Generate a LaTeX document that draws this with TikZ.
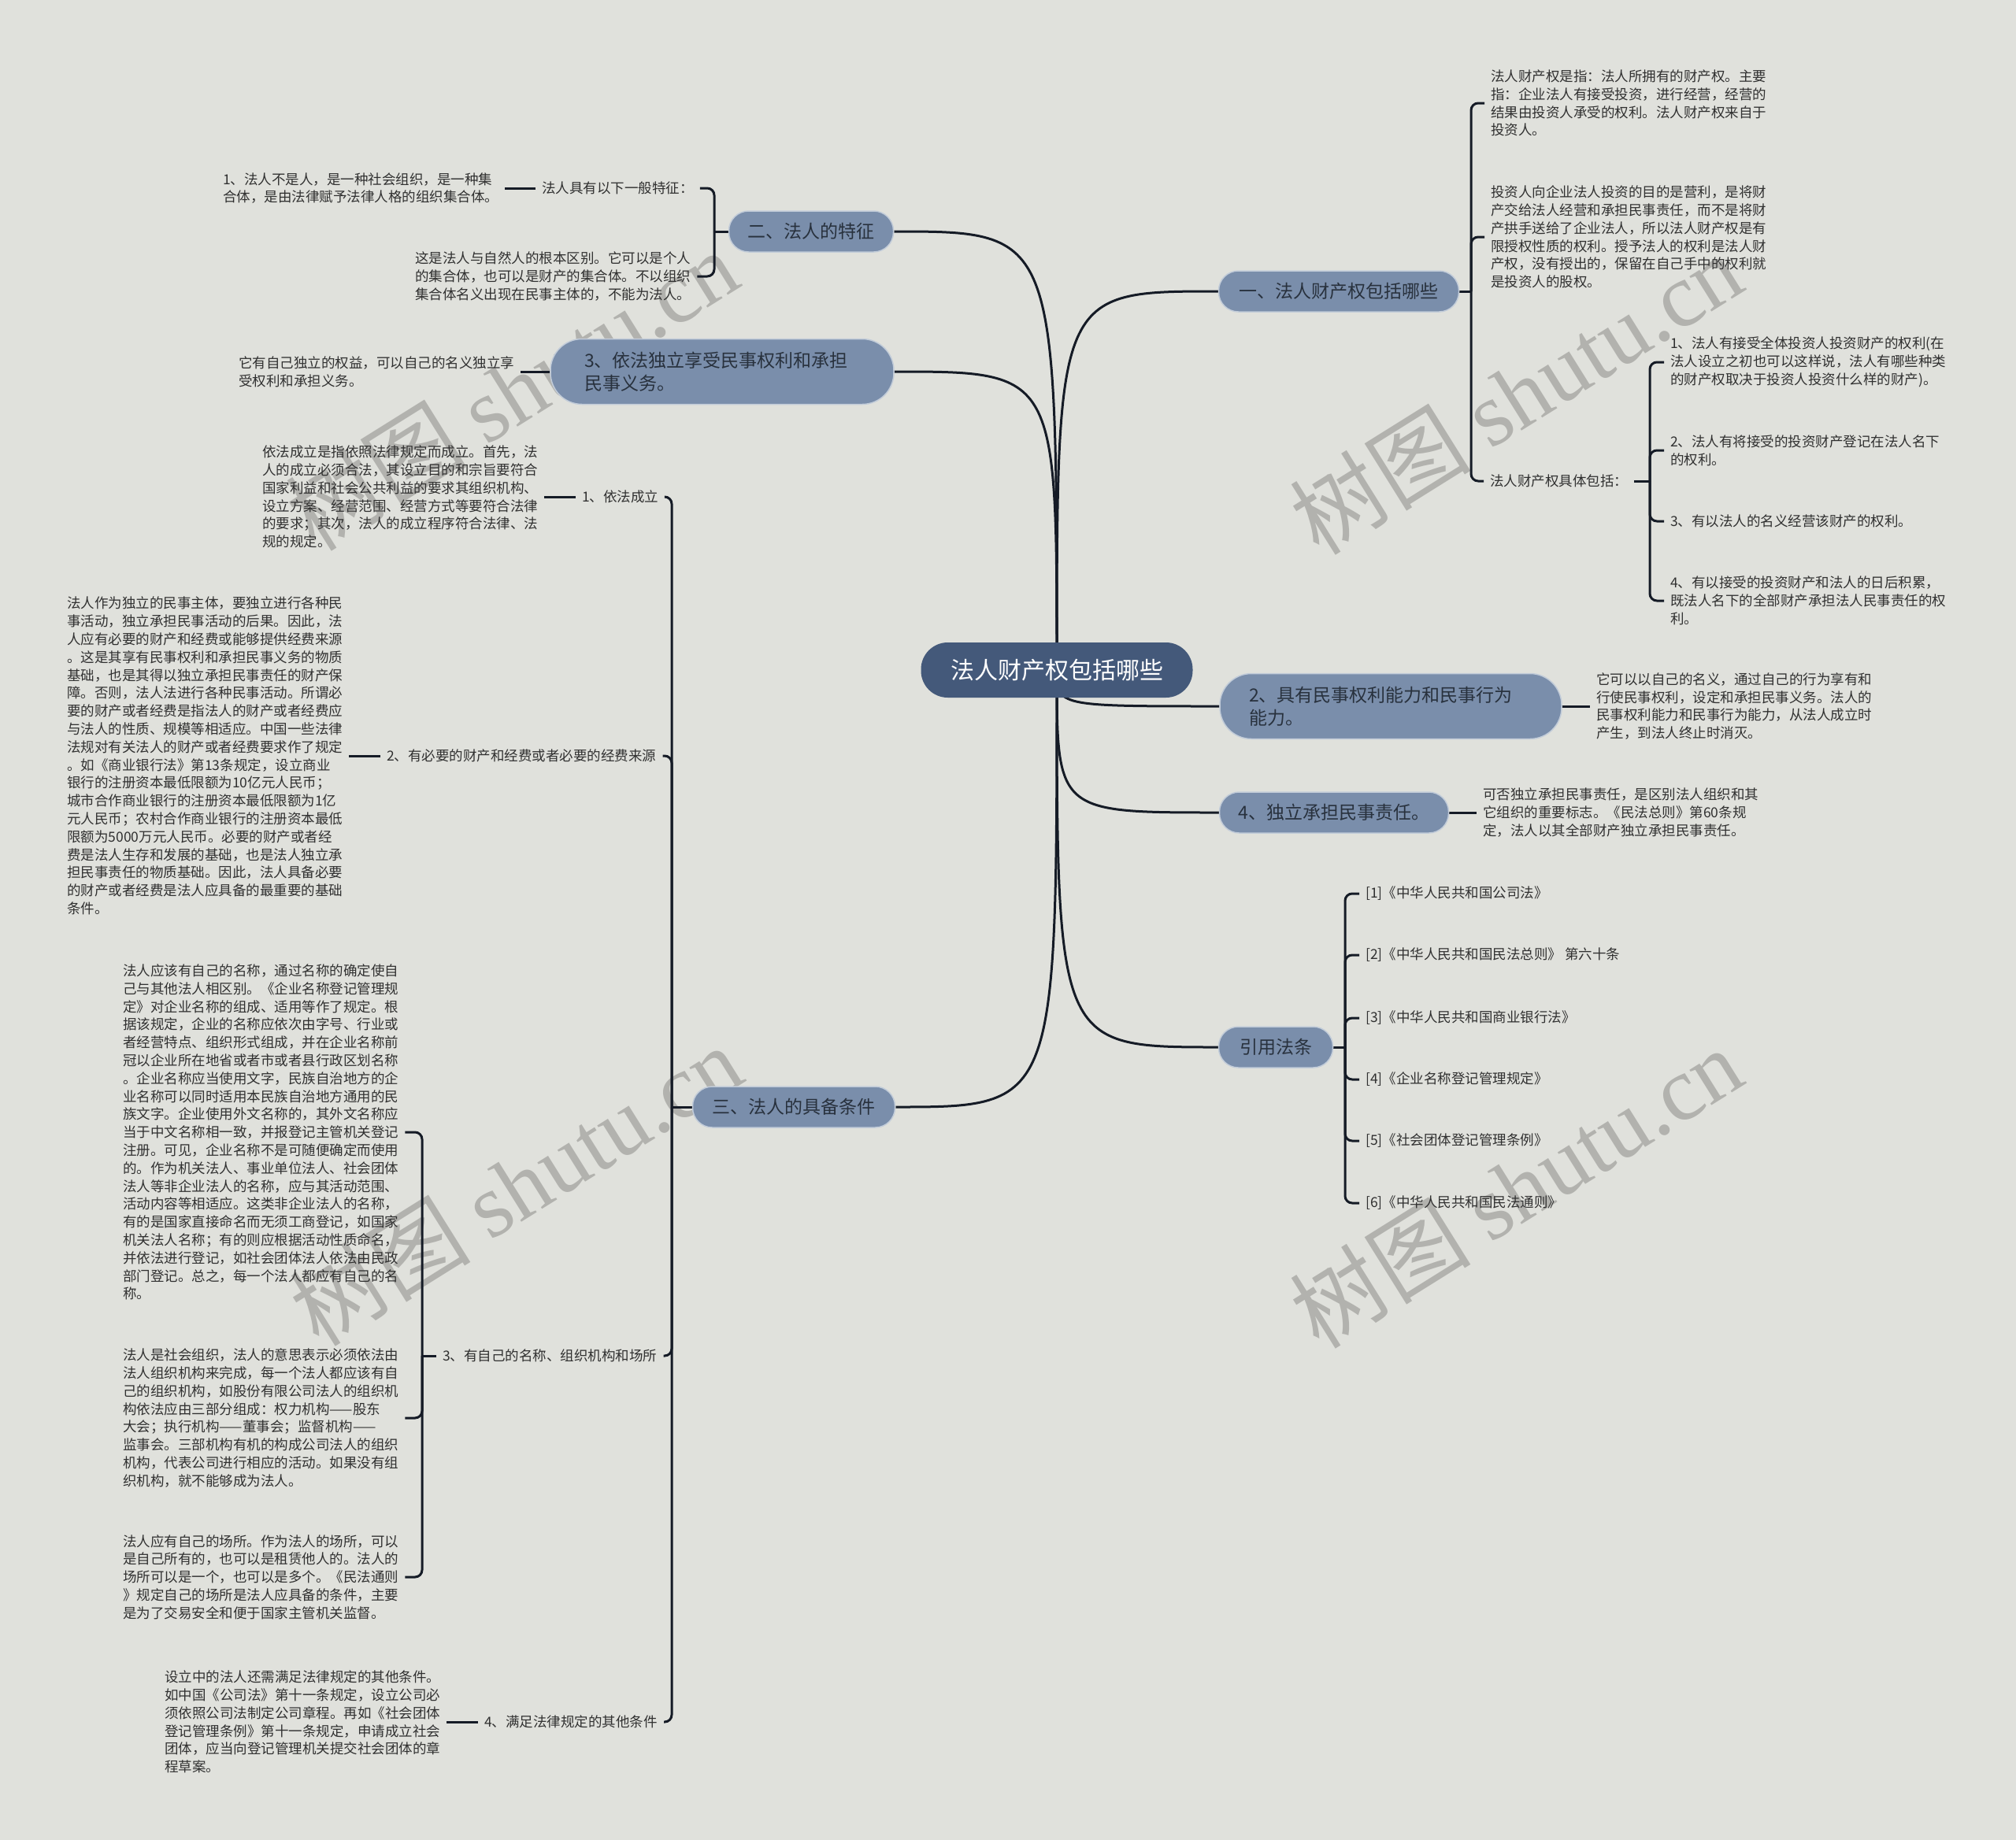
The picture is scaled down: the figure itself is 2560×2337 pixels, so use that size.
\documentclass[tikz,border=0pt]{standalone}
\usepackage{fontspec}
\setmainfont{Noto Sans CJK SC}
\newfontfamily\wmlatin{Liberation Serif}
\usetikzlibrary{calc}
\definecolor{bgc}{HTML}{E0E1DC}
\definecolor{rootc}{HTML}{44597A}
\definecolor{brc}{HTML}{7A8EAB}
\definecolor{brd}{HTML}{C2CCD9}
\definecolor{brt}{HTML}{28313D}
\definecolor{leafc}{HTML}{303030}
\definecolor{lnc}{HTML}{151B26}
\definecolor{wmc}{HTML}{B2B2AE}
\pgfdeclarelayer{wmlayer}
\pgfdeclarelayer{lnlayer}
\pgfsetlayers{wmlayer,lnlayer,main}
\tikzset{
  rootn/.style={fill=rootc, text=white, font=\fontsize{30}{36}\selectfont, minimum width=345pt, minimum height=70pt, rounded corners=34pt, inner sep=0pt},
  br/.style={fill=brc, draw=brd, line width=1.5pt, text=brt, font=\fontsize{23}{29}\selectfont, rounded corners=25pt, minimum height=52pt, inner ysep=0pt},
  brtwo/.style={br, align=left, rounded corners=40pt, minimum height=83pt},
  leaf/.style={anchor=west, align=left, inner xsep=8pt, inner ysep=2pt, text=leafc, font=\fontsize{17.5}{22.8}\selectfont},
  conn/.style={draw=lnc, line width=3pt},
  brk/.style={conn, rounded corners=9pt},
  wm/.style={text=wmc, rotate=32, inner sep=0pt, font=\fontsize{115}{115}\selectfont}
}
\begin{document}
\begin{tikzpicture}[x=1pt,y=-1pt]
\begin{pgfonlayer}{wmlayer}
\fill[bgc] (0,0) rectangle (2560,2337);
\end{pgfonlayer}
\useasboundingbox (0,0) rectangle (2560,2337);

% watermarks
\begin{pgfonlayer}{wmlayer}
\node[wm] (wm1) at (650,495) {树图 {\wmlatin shutu.cn}};
\node[wm] (wm2) at (1925,500) {树图 {\wmlatin shutu.cn}};
\node[wm] (wm3) at (655,1505) {树图 {\wmlatin shutu.cn}};
\node[wm] (wm4) at (1925,1508) {树图 {\wmlatin shutu.cn}};
\end{pgfonlayer}

% root and main branches
\node[rootn] (root) at (1342,851) {法人财产权包括哪些};
\node[br, minimum width=305pt] (b1) at (1700,370) {一、法人财产权包括哪些};
\node[brtwo, text width=360pt, inner xsep=37pt] (b2) at (1766,897) {2、具有民事权利能力和民事行为\\能力。};
\node[br, minimum width=291pt] (b3) at (1694,1032) {4、独立承担民事责任。};
\node[br, minimum width=145pt] (b4) at (1620,1330) {引用法条};
\node[br, minimum width=209pt] (b5) at (1030,294) {二、法人的特征};
\node[brtwo, text width=350pt, inner xsep=43pt] (b6) at (917,472) {3、依法独立享受民事权利和承担\\民事义务。};
\node[br, minimum width=257pt] (b7) at (1008,1406) {三、法人的具备条件};

% right: branch 1
\node[leaf] (tA) at (1885,131) {法人财产权是指：法人所拥有的财产权。主要\\指：企业法人有接受投资，进行经营，经营的\\结果由投资人承受的权利。法人财产权来自于\\投资人。};
\node[leaf] (tB) at (1885,301) {投资人向企业法人投资的目的是营利，是将财\\产交给法人经营和承担民事责任，而不是将财\\产拱手送给了企业法人，所以法人财产权是有\\限授权性质的权利。授予法人的权利是法人财\\产权，没有授出的，保留在自己手中的权利就\\是投资人的股权。};
\node[leaf] (tC) at (1884,611) {法人财产权具体包括：};
\node[leaf] (c1) at (2113,460) {1、法人有接受全体投资人投资财产的权利(在\\法人设立之初也可以这样说，法人有哪些种类\\的财产权取决于投资人投资什么样的财产)。};
\node[leaf] (c2) at (2113,572) {2、法人有将接受的投资财产登记在法人名下\\的权利。};
\node[leaf] (c3) at (2113,662) {3、有以法人的名义经营该财产的权利。};
\node[leaf] (c4) at (2113,763) {4、有以接受的投资财产和法人的日后积累，\\既法人名下的全部财产承担法人民事责任的权\\利。};

% right: branch 2, 4
\node[leaf] (t2) at (2019,897) {它可以以自己的名义，通过自己的行为享有和\\行使民事权利，设定和承担民事义务。法人的\\民事权利能力和民事行为能力，从法人成立时\\产生，到法人终止时消灭。};
\node[leaf] (t3) at (1875,1032) {可否独立承担民事责任，是区别法人组织和其\\它组织的重要标志。《民法总则》第60条规\\定，法人以其全部财产独立承担民事责任。};

% right: references
\node[leaf] (r1) at (1726,1135) {[1]《中华人民共和国公司法》};
\node[leaf] (r2) at (1726,1213) {[2]《中华人民共和国民法总则》 第六十条};
\node[leaf] (r3) at (1726,1293) {[3]《中华人民共和国商业银行法》};
\node[leaf] (r4) at (1726,1371) {[4]《企业名称登记管理规定》};
\node[leaf] (r5) at (1726,1449) {[5]《社会团体登记管理条例》};
\node[leaf] (r6) at (1726,1528) {[6]《中华人民共和国民法通则》};

% left: 二
\node[leaf] (l1) at (680,239) {法人具有以下一般特征：};
\node[leaf] (l1a) at (275,239) {1、法人不是人，是一种社会组织，是一种集\\合体，是由法律赋予法律人格的组织集合体。};
\node[leaf] (l2) at (519,351) {这是法人与自然人的根本区别。它可以是个人\\的集合体，也可以是财产的集合体。不以组织\\集合体名义出现在民事主体的，不能为法人。};
% left: 3
\node[leaf] (l3) at (295,472) {它有自己独立的权益，可以自己的名义独立享\\受权利和承担义务。};

% left: 三
\node[leaf] (s1) at (731,631) {1、依法成立};
\node[leaf] (s1a) at (325,631) {依法成立是指依照法律规定而成立。首先，法\\人的成立必须合法，其设立目的和宗旨要符合\\国家利益和社会公共利益的要求其组织机构、\\设立方案、经营范围、经营方式等要符合法律\\的要求；其次，法人的成立程序符合法律、法\\规的规定。};
\node[leaf] (s2) at (483,960) {2、有必要的财产和经费或者必要的经费来源};
\node[leaf] (s2a) at (77,960) {法人作为独立的民事主体，要独立进行各种民\\事活动，独立承担民事活动的后果。因此，法\\人应有必要的财产和经费或能够提供经费来源\\。这是其享有民事权利和承担民事义务的物质\\基础，也是其得以独立承担民事责任的财产保\\障。否则，法人法进行各种民事活动。所谓必\\要的财产或者经费是指法人的财产或者经费应\\与法人的性质、规模等相适应。中国一些法律\\法规对有关法人的财产或者经费要求作了规定\\。如《商业银行法》第13条规定，设立商业\\银行的注册资本最低限额为10亿元人民币；\\城市合作商业银行的注册资本最低限额为1亿\\元人民币；农村合作商业银行的注册资本最低\\限额为5000万元人民币。必要的财产或者经\\费是法人生存和发展的基础，也是法人独立承\\担民事责任的物质基础。因此，法人具备必要\\的财产或者经费是法人应具备的最重要的基础\\条件。};
\node[leaf] (s3) at (554,1722) {3、有自己的名称、组织机构和场所};
\node[leaf] (s3a) at (148,1438) {法人应该有自己的名称，通过名称的确定使自\\己与其他法人相区别。《企业名称登记管理规\\定》对企业名称的组成、适用等作了规定。根\\据该规定，企业的名称应依次由字号、行业或\\者经营特点、组织形式组成，并在企业名称前\\冠以企业所在地省或者市或者县行政区划名称\\。企业名称应当使用文字，民族自治地方的企\\业名称可以同时适用本民族自治地方通用的民\\族文字。企业使用外文名称的，其外文名称应\\当于中文名称相一致，并报登记主管机关登记\\注册。可见，企业名称不是可随便确定而使用\\的。作为机关法人、事业单位法人、社会团体\\法人等非企业法人的名称，应与其活动范围、\\活动内容等相适应。这类非企业法人的名称，\\有的是国家直接命名而无须工商登记，如国家\\机关法人名称；有的则应根据活动性质命名，\\并依法进行登记，如社会团体法人依法由民政\\部门登记。总之，每一个法人都应有自己的名\\称。};
\node[leaf] (s3b) at (148,1801) {法人是社会组织，法人的意思表示必须依法由\\法人组织机构来完成，每一个法人都应该有自\\己的组织机构，如股份有限公司法人的组织机\\构依法应由三部分组成：权力机构——股东\\大会；执行机构——董事会；监督机构——\\监事会。三部机构有机的构成公司法人的组织\\机构，代表公司进行相应的活动。如果没有组\\织机构，就不能够成为法人。};
\node[leaf] (s3c) at (148,2003) {法人应有自己的场所。作为法人的场所，可以\\是自己所有的，也可以是租赁他人的。法人的\\场所可以是一个，也可以是多个。《民法通则\\》规定自己的场所是法人应具备的条件，主要\\是为了交易安全和便于国家主管机关监督。};
\node[leaf] (s4) at (607,2187) {4、满足法律规定的其他条件};
\node[leaf] (s4a) at (201,2187) {设立中的法人还需满足法律规定的其他条件。\\如中国《公司法》第十一条规定，设立公司必\\须依照公司法制定公司章程。再如《社会团体\\登记管理条例》第十一条规定，申请成立社会\\团体，应当向登记管理机关提交社会团体的章\\程草案。};

% bracket junctions
\coordinate (k1) at (1868,370);
\coordinate (kC) at (2095,611);
\coordinate (k4) at (1708,1330);
\coordinate (k5) at (907,294);
\coordinate (k7) at (853,1406);
\coordinate (k3) at (536,1722);

\begin{pgfonlayer}{lnlayer}
% root curves
\foreach \b in {b1,b2,b3,b4}{
  \draw[conn] (root.center) .. controls (root.center |- \b.west) and (root.center |- \b.west) .. (\b.west);
}
\foreach \b in {b5,b6,b7}{
  \draw[conn] (root.center) .. controls (root.center |- \b.east) and (root.center |- \b.east) .. (\b.east);
}
% branch 1
\draw[conn] (b1.east) -- (k1);
\foreach \c in {tA,tB,tC}{ \draw[brk] (k1) -- (k1 |- \c.west) -- (\c.west); }
\draw[conn] (tC.east) -- (kC);
\foreach \c in {c1,c2,c3,c4}{ \draw[brk] (kC) -- (kC |- \c.west) -- (\c.west); }
% branch 2, 4
\draw[conn] (b2.east) -- (t2.west);
\draw[conn] (b3.east) -- (t3.west);
% references
\draw[conn] (b4.east) -- (k4);
\foreach \c in {r1,r2,r3,r4,r5,r6}{ \draw[brk] (k4) -- (k4 |- \c.west) -- (\c.west); }
% 二
\draw[conn] (b5.west) -- (k5);
\foreach \c in {l1,l2}{ \draw[brk] (k5) -- (k5 |- \c.east) -- (\c.east); }
\draw[conn] (l1.west) -- (l1a.east);
% 3
\draw[conn] (b6.west) -- (l3.east);
% 三
\draw[conn] (b7.west) -- (k7);
\foreach \c in {s1,s2,s3,s4}{ \draw[brk] (k7) -- (k7 |- \c.east) -- (\c.east); }
\draw[conn] (s1.west) -- (s1a.east);
\draw[conn] (s2.west) -- (s2a.east);
\draw[conn] (s3.west) -- (k3);
\foreach \c in {s3a,s3b,s3c}{ \draw[brk] (k3) -- (k3 |- \c.east) -- (\c.east); }
\draw[conn] (s4.west) -- (s4a.east);
\end{pgfonlayer}
\end{tikzpicture}
\end{document}
